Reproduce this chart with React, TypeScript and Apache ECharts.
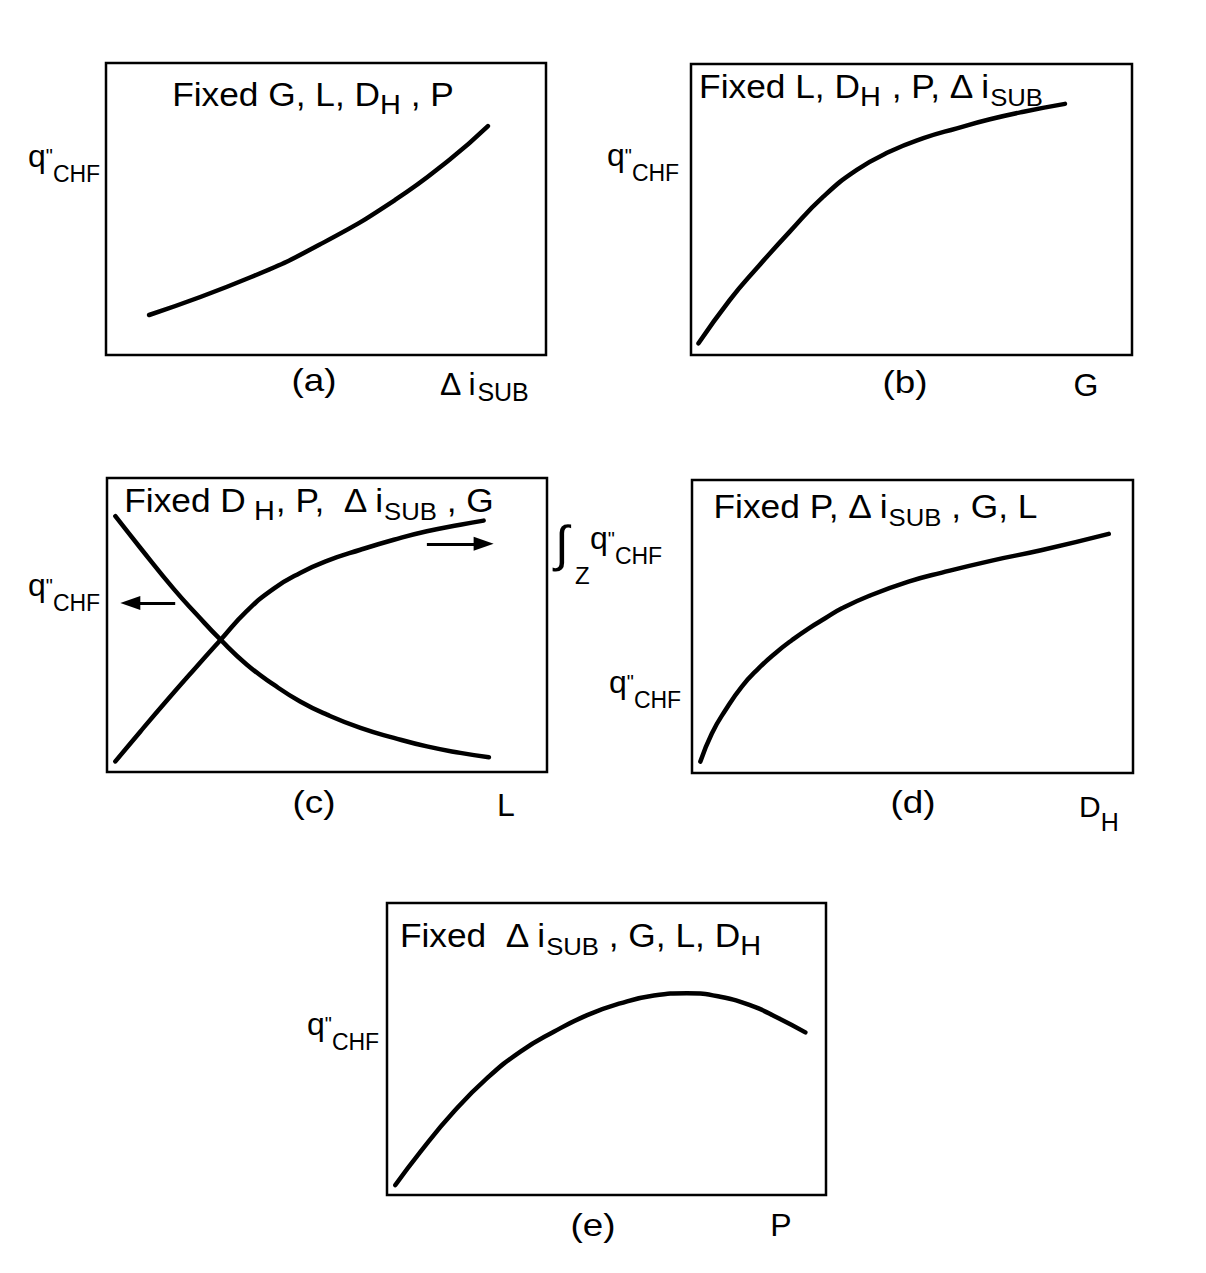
import React, { useEffect, useRef } from "react";
import * as echarts from "echarts";

const FONT = "'Liberation Sans', Arial, Helvetica, sans-serif";

// Panel (a): q"CHF vs Δi_SUB (fixed G, L, D_H, P)
const subcoolingX = [9.8, 33.0, 49.3, 65.7, 78.0, 86.8];
const subcoolingChf = [13.7, 26.7, 38.4, 53.1, 66.8, 78.4];
// Panel (b): q"CHF vs G
const massFluxX = [1.7, 8.8, 14.9, 22.4, 30.0, 37.6, 45.1, 52.7, 60.3, 67.8, 75.4, 84.8];
const massFluxChf = [4.0, 18.9, 29.8, 42.4, 54.4, 63.6, 69.9, 74.5, 77.9, 81.0, 83.6, 86.3];
// Panel (c): q"CHF (decreasing) and ∫z q"CHF (increasing) vs L
const lengthLocalX = [1.9, 7.6, 15.2, 20.5, 25.8, 31.8, 37.9, 43.9, 50.0, 57.6, 65.2, 72.7, 80.3, 86.8];
const lengthLocalChf = [87.0, 76.2, 62.2, 53.4, 45.0, 36.5, 29.7, 24.0, 19.5, 15.0, 11.6, 8.7, 6.5, 5.0];
const lengthIntX = [1.9, 7.6, 13.6, 19.7, 25.8, 31.8, 37.9, 43.9, 50.0, 57.6, 65.2, 72.7, 80.3, 85.6];
const lengthIntChf = [3.6, 13.8, 24.3, 34.7, 44.9, 54.8, 62.4, 67.7, 71.8, 75.6, 79.0, 81.9, 84.1, 85.5];
const arrowToLeft = [[15.5, 57.5], [5.3, 57.5]];
const arrowToRight = [[72.7, 77.6], [85.6, 77.6]];
// Panel (d): q"CHF vs D_H
const diameterX = [1.9, 4.5, 7.6, 11.3, 15.1, 18.9, 22.7, 26.5, 30.2, 34.0, 40.1, 49.1, 56.7, 68.0, 79.4, 94.5];
const diameterChf = [3.9, 13.5, 21.5, 29.5, 35.7, 40.9, 45.4, 49.4, 52.8, 56.2, 60.4, 65.3, 68.4, 72.5, 76.1, 81.6];
// Panel (e): q"CHF vs P
const pressureX = [1.9, 7.6, 15.2, 22.8, 30.4, 38.0, 45.6, 53.1, 60.8, 68.3, 75.9, 83.6, 89.2, 95.3];
const pressureChf = [3.4, 14.8, 28.5, 40.0, 49.1, 55.9, 61.6, 65.6, 68.3, 69.1, 67.9, 64.5, 60.5, 55.7];

const panelTitles = [
  "{n|Fixed G, L, D}{h|H}{n| , P}",
  "{n|Fixed L, D}{h|H}{n| , P, Δ i}{s|SUB}",
  "{n|Fixed D}{h| H}{n|, P,  Δ i}{s|SUB}{n| , G}",
  "{n|Fixed P, Δ i}{s|SUB}{n| , G, L}",
  "{n|Fixed  Δ i}{s|SUB}{n| , G, L, D}{h|H}",
];
const panelTags = ["(a)", "(b)", "(c)", "(d)", "(e)"];
const xAxisNames = ["{n|Δ i}{s|SUB}", "{n|G}", "{n|L}", "{n|D}{h|H}", "{n|P}"];

const boxes = [
  { left: 106, top: 63, width: 440, height: 292 },
  { left: 691, top: 64, width: 441, height: 291 },
  { left: 107, top: 478, width: 440, height: 294 },
  { left: 692, top: 480, width: 441, height: 293 },
  { left: 387, top: 903, width: 439, height: 292 },
];

const titlePos = [[313, 94], [871, 86], [309, 500], [875, 506], [580, 935]];
const tagPos = [[314, 380], [905, 382], [314, 802], [913, 802], [593, 1225]];
const namePos: [number, number, string][] = [
  [440, 384, "left"], [1086, 385, "center"], [506, 805, "center"], [1079, 806, "left"], [781, 1225, "center"],
];
const qPos = [[28, 155.5], [607, 155], [28, 585], [609, 681.5], [307, 1023.5]];

const zip = (xs: number[], ys: number[]) => xs.map((x, i) => [x, ys[i]]);

const RICH_TITLE = {
  n: { fontSize: 33, fontFamily: FONT, lineHeight: 48, fill: "#000", verticalAlign: "middle" },
  h: { fontSize: 27, fontFamily: FONT, fill: "#000", verticalAlign: "bottom" },
  s: { fontSize: 24, fontFamily: FONT, fill: "#000", verticalAlign: "bottom" },
};
const RICH_SUB = {
  n: { fontSize: 32, fontFamily: FONT, lineHeight: 40, fill: "#000", verticalAlign: "middle" },
  s: { fontSize: 25, fontFamily: FONT, fill: "#000", verticalAlign: "bottom" },
};
const RICH_DH = {
  n: { fontSize: 30, fontFamily: FONT, lineHeight: 56, fill: "#000", verticalAlign: "middle" },
  h: { fontSize: 25, fontFamily: FONT, fill: "#000", verticalAlign: "bottom" },
};
const RICH_Q = {
  q: { fontSize: 32, fontFamily: FONT, fill: "#000", lineHeight: 64, verticalAlign: "top", padding: [14, 0, 0, 0] },
  p: { fontSize: 20, fontFamily: FONT, fill: "#000", lineHeight: 64, verticalAlign: "top", padding: [20.5, 0, 0, 0] },
  c: { fontSize: 23, fontFamily: FONT, fill: "#000", lineHeight: 64, verticalAlign: "top", padding: [36.5, 0, 0, 0] },
};

function plain(text: string, x: number, y: number, size: number, align = "left", scaleX = 1) {
  return {
    type: "text",
    x,
    y,
    scaleX,
    silent: true,
    style: { text, fill: "#000", fontSize: size, fontFamily: FONT, align, verticalAlign: "middle" },
  };
}

function richText(text: string, x: number, y: number, rich: any, align: string, scaleX = 1) {
  return {
    type: "text",
    x,
    y,
    scaleX,
    silent: true,
    style: { text, rich, align, verticalAlign: "middle", fill: "#000", fontFamily: FONT },
  };
}

function qLabel(x: number, y: number) {
  return {
    type: "text",
    x,
    y: y - 30,
    silent: true,
    style: {
      text: '{q|q}{p|"}{c|CHF}',
      rich: RICH_Q,
      align: "left",
      verticalAlign: "top",
      fill: "#000",
      fontFamily: FONT,
    },
  };
}

function buildOption() {
  const lineStyle = { color: "#000", width: 4.5, cap: "round" };
  const mk = (i: number, data: number[][], extra: any = {}) => ({
    type: "line",
    xAxisIndex: i,
    yAxisIndex: i,
    data,
    smooth: 0.5,
    showSymbol: false,
    symbol: "none",
    lineStyle,
    silent: true,
    ...extra,
  });

  const elements: any[] = [];
  panelTitles.forEach((t, i) => {
    elements.push(richText(t, titlePos[i][0], titlePos[i][1], RICH_TITLE, "center", 1.07));
    elements.push(plain(panelTags[i], tagPos[i][0], tagPos[i][1], 32, "center", 1.15));
    const rich = i === 3 ? RICH_DH : RICH_SUB;
    elements.push(richText(xAxisNames[i], namePos[i][0], namePos[i][1], rich, namePos[i][2]));
    elements.push(qLabel(qPos[i][0], qPos[i][1]));
  });
  // right-hand label of panel (c): ∫z q"CHF
  elements.push(plain("∫", 555, 544, 50));
  elements.push(plain("Z", 575, 575.5, 24));
  elements.push(qLabel(590, 538));

  return {
    animation: false,
    backgroundColor: "#fff",
    grid: boxes.map((b) => ({
      ...b,
      show: true,
      borderColor: "#000",
      borderWidth: 2.5,
      backgroundColor: "transparent",
    })),
    xAxis: boxes.map((_, i) => ({ type: "value", gridIndex: i, min: 0, max: 100, show: false })),
    yAxis: boxes.map((_, i) => ({ type: "value", gridIndex: i, min: 0, max: 100, show: false })),
    series: [
      mk(0, zip(subcoolingX, subcoolingChf)),
      mk(1, zip(massFluxX, massFluxChf)),
      mk(2, zip(lengthLocalX, lengthLocalChf), {
        markLine: {
          silent: true,
          symbol: ["none", "triangle"],
          symbolSize: [14, 20],
          label: { show: false },
          lineStyle: { color: "#000", width: 3, type: "solid" },
          emphasis: { disabled: true },
          data: [
            [{ coord: arrowToLeft[0] }, { coord: arrowToLeft[1] }],
            [{ coord: arrowToRight[0] }, { coord: arrowToRight[1] }],
          ],
        },
      }),
      mk(2, zip(lengthIntX, lengthIntChf)),
      mk(3, zip(diameterX, diameterChf)),
      mk(4, zip(pressureX, pressureChf)),
    ],
    graphic: { elements },
  };
}

export default function App() {
  const ref = useRef<HTMLDivElement>(null);
  useEffect(() => {
    if (!ref.current) return;
    const chart = echarts.init(ref.current, null, { renderer: "svg" });
    chart.setOption(buildOption() as any);
    return () => chart.dispose();
  }, []);
  return (
    <div
      ref={ref}
      style={{ position: "absolute", left: 0, top: 0, width: 1206, height: 1273, background: "#fff" }}
    />
  );
}
